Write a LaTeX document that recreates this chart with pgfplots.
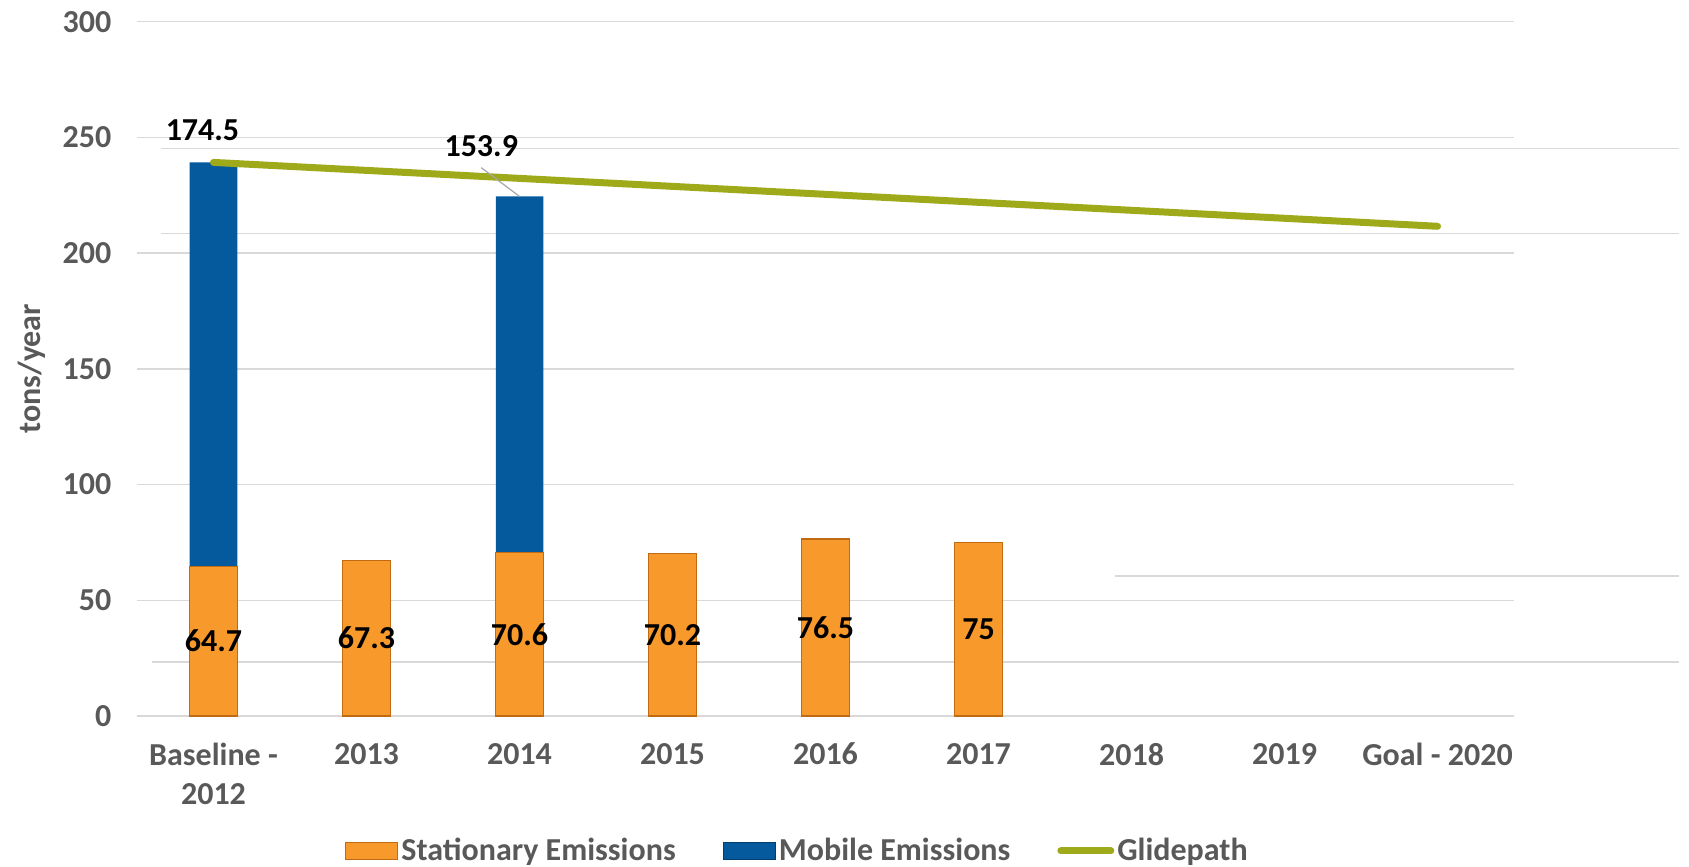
\documentclass[border=0pt]{standalone}
\usepackage{fontspec}
\setmainfont{Carlito}
\usepackage{pgfplots}
\pgfplotsset{compat=1.18}
\definecolor{statc}{HTML}{F8992B}
\definecolor{statd}{HTML}{C06A12}
\definecolor{mobc}{HTML}{045A9C}
\definecolor{mobd}{HTML}{023E70}
\definecolor{glide}{HTML}{9FAA1B}
\definecolor{txt}{HTML}{595959}
\definecolor{gridc}{HTML}{D9D9D9}
\newcommand{\cf}{\fontsize{16}{19.5}\selectfont\bfseries}
\pgfplotsset{
 base/.style={scale only axis, width=688.5pt, height=347.15pt,
   xmin=-0.5, xmax=8.5, ymin=0, ymax=300, at={(0,0)}, anchor=south west, clip=false},
 statleg/.style={legend image code/.code={\draw[fill=statc, draw=statd, line width=0.6pt] (0pt,-4.25pt) rectangle (26pt,4.25pt);}},
 mobleg/.style={legend image code/.code={\draw[fill=mobc, draw=mobd, line width=0.6pt] (0pt,-4.25pt) rectangle (26pt,4.25pt);}},
 glideleg/.style={legend image code/.code={\draw[glide, line width=3.5pt, line cap=round] (1.5pt,0pt) -- (26.5pt,0pt);}},
}
\begin{document}
\begin{tikzpicture}
\useasboundingbox (-68.5pt,-75pt) rectangle (776pt,358pt);
% faint secondary gridlines (behind everything)
\begin{axis}[base, hide axis]
\addplot[gridc, line width=0.75pt, mark=none] coordinates {(-0.343,245.1) (9.58,245.1)};
\addplot[gridc, line width=0.75pt, mark=none] coordinates {(-0.343,208.4) (9.58,208.4)};
\addplot[gridc, line width=0.75pt, mark=none] coordinates {(5.89,60.5) (9.58,60.5)};
\addplot[gridc, line width=0.75pt, mark=none] coordinates {(-0.4,23.3) (9.58,23.3)};
\end{axis}
\begin{axis}[base, ybar stacked, bar width=23.75pt,
  axis line style={draw=none}, tick style={draw=none},
  ymajorgrids, major grid style={draw=gridc, line width=0.75pt},
  ytick={0,50,...,300}, xtick={0,...,8},
  xticklabels={{Baseline -\\2012},2013,2014,2015,2016,2017,2018,2019,{Goal - 2020}},
  xticklabel style={align=center, font=\cf, text=txt, yshift=-10pt},
  yticklabel style={font=\cf, text=txt, xshift=-9.3pt},
  /pgf/number format/assume math mode=true,
  ylabel={tons/year},
  every axis y label/.style={at={([xshift=-52.5pt]rel axis cs:0,0.5)}, rotate=90, anchor=center, font=\cf, text=txt},
  legend columns=3,
  legend style={draw=none, fill=none, at={(0.48,-0.1944)}, anchor=center, font=\cf, text=txt,
    nodes={inner sep=1.5pt},
    /tikz/every odd column/.append style={column sep=0pt},
    /tikz/every even column/.append style={column sep=22pt}},
]
\addplot[fill=statc, draw=statd, line width=0.6pt, statleg]
  coordinates {(0,64.7) (1,67.3) (2,70.6) (3,70.2) (4,76.5) (5,75)};
\addlegendentry{Stationary Emissions}
\addplot[fill=mobc, draw=none, mobleg]
  coordinates {(0,174.5) (1,0) (2,153.9) (3,0) (4,0) (5,0)};
\addlegendentry{Mobile Emissions}
\addlegendimage{glideleg}
\addlegendentry{Glidepath}
\end{axis}
\begin{axis}[base, hide axis]
\addplot[glide, line width=3.5pt, line cap=round, line join=round, mark=none]
  coordinates {(0,239.2) (1,235.75) (2,232.3) (3,228.85) (4,225.4) (5,221.95) (6,218.5) (7,215.05) (8,211.6)};
\addplot[draw=none, mark=none, nodes near coords, point meta=explicit symbolic,
  every node near coord/.style={anchor=center, font=\cf, text=black}]
  coordinates {(0,32.35)[64.7] (1,33.65)[67.3] (2,35.3)[70.6] (3,35.1)[70.2] (4,38.25)[76.5] (5,37.5)[75]};
\addplot[draw=none, mark=none, nodes near coords, point meta=explicit symbolic,
  every node near coord/.style={anchor=center, font=\cf, text=black}]
  coordinates {(-0.072,253.3)[174.5] (1.75,246.1)[153.9]};
\addplot[gray!70, line width=0.6pt, mark=none] coordinates {(1.75,236.9) (2.0,224.5)};
\end{axis}
\end{tikzpicture}
\end{document}
